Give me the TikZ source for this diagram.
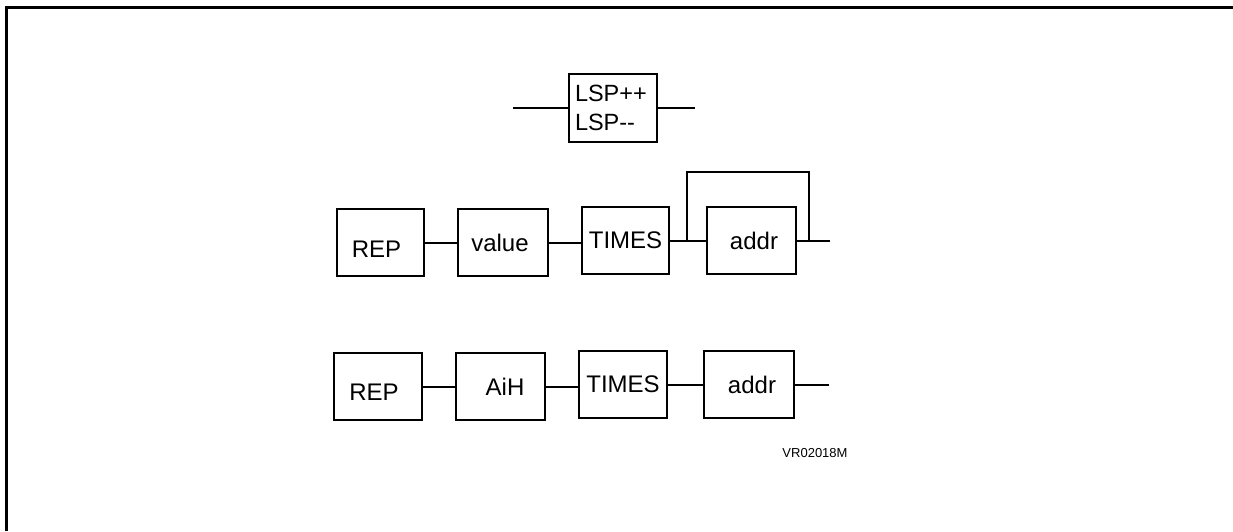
\documentclass[tikz,border=0pt]{standalone}
\usepackage{fontspec}
\setmainfont{Liberation Sans}
\begin{document}
\begin{tikzpicture}[x=1pt,y=-1pt,
  blk/.style={draw,line width=2pt,inner sep=0pt,minimum width=88pt,minimum height=67pt,font=\fontsize{24}{28}\selectfont},
  wire/.style={line width=2pt},
  frm/.style={line width=3pt}]
\useasboundingbox (0,0) rectangle (1233,531);
% frame
\coordinate (fb) at (6,531);
\coordinate (ftl) at (6,7);
\coordinate (fr) at (1233,7);
\draw[frm] (fb) -- (ftl) -- (fr);

% LSP box
\node[blk,minimum width=88pt,minimum height=68pt,text width=76pt,inner xsep=6pt,align=left,font=\fontsize{23.5}{29}\selectfont] (lsp) at (613,108) {LSP++\\LSP-{}-};
\coordinate (lspin) at (513,108);
\coordinate (lspout) at (695,108);
\draw[wire] (lspin) -- (lsp.west);
\draw[wire] (lsp.east) -- (lspout);

% Row 1
\node[blk,minimum width=87pt] (rep1) at (380.5,242.5) {\smash{\raisebox{-15pt}{REP}}\hspace*{8pt}};
\node[blk,minimum width=90pt] (val) at (503,242.5) {value\hspace*{6pt}};
\node[blk,minimum width=87pt] (t1) at (625.5,240.5) {TIMES};
\node[blk,minimum width=89pt] (a1) at (751.5,240.5) {\hspace*{5pt}addr};
\coordinate (s1) at (687,240.5);
\coordinate (top1) at (748,172);
\coordinate (j1) at (809,240.5);
\coordinate (e1) at (830,240.5);
\draw[wire] (rep1.east) -- (val.west);
\draw[wire] (val.east) -- (val.east -| t1.west);
\draw[wire] (t1.east) -- (a1.west);
\draw[wire] (s1) |- (top1) -| (j1);
\draw[wire] (a1.east) -- (e1);

% Row 2
\node[blk,minimum width=88pt] (rep2) at (378,386.5) {\smash{\raisebox{-14pt}{REP}}\hspace*{8pt}};
\node[blk,minimum width=89pt] (aih) at (500.5,386.5) {\hspace*{9pt}AiH};
\node[blk,minimum width=88pt] (t2) at (623,384.5) {TIMES};
\node[blk,minimum width=90pt] (a2) at (749,384.5) {\hspace*{6pt}addr};
\coordinate (e2) at (829,384.5);
\draw[wire] (rep2.east) -- (rep2.east -| aih.west);
\draw[wire] (aih.east) -- (aih.east -| t2.west);
\draw[wire] (t2.east) -- (a2.west);
\draw[wire] (a2.east) -- (e2);

% reference label
\node[font=\fontsize{13}{15}\selectfont,inner sep=0pt] (ref) at (815,453) {VR02018M};
\end{tikzpicture}
\end{document}
